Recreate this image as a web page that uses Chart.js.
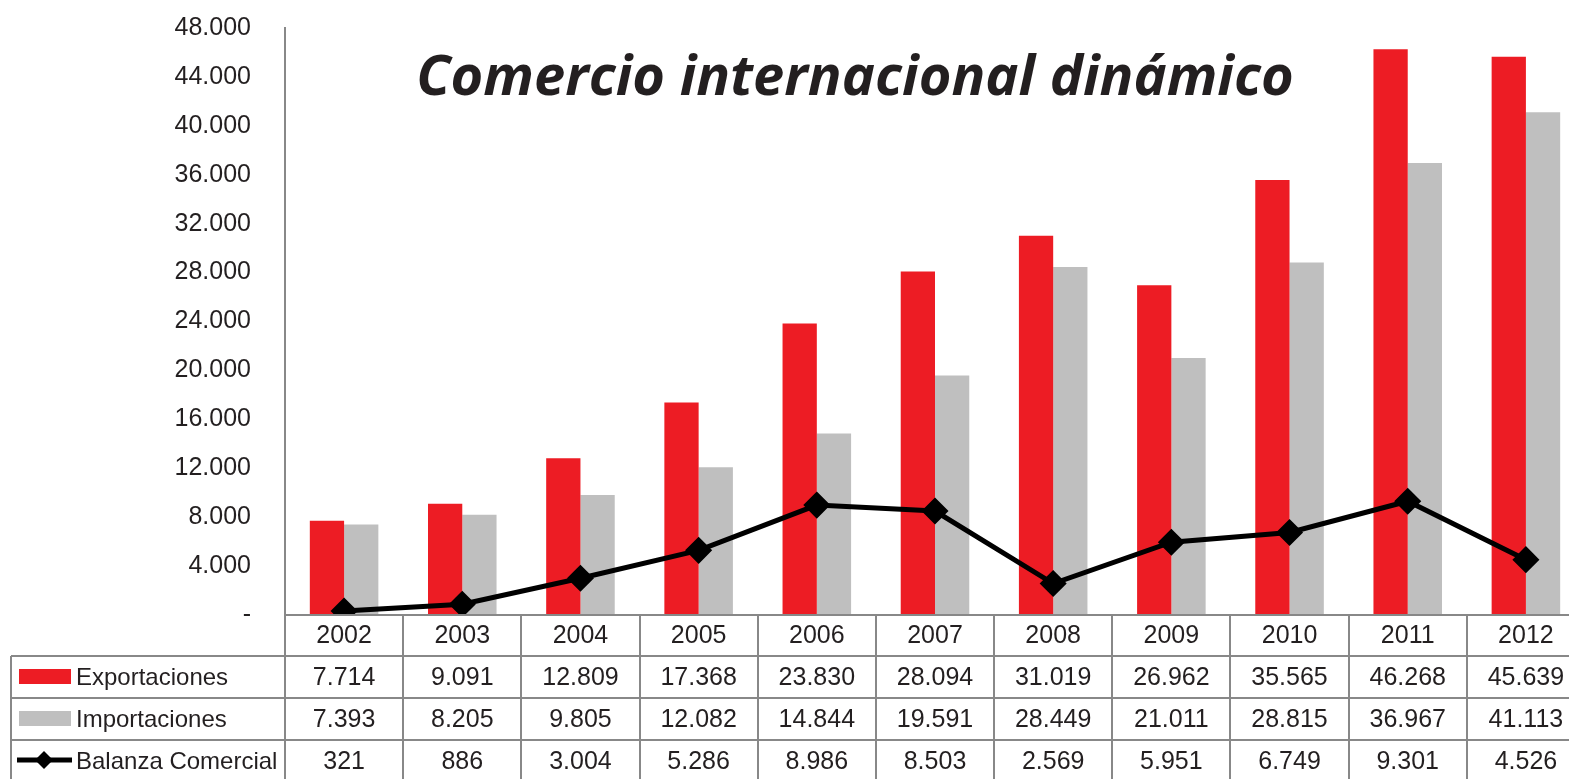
<!DOCTYPE html>
<html>
<head>
<meta charset="utf-8">
<script src="https://cdn.jsdelivr.net/npm/chart.js@4.4.0/dist/chart.umd.min.js"></script>
<style>
  html, body { margin: 0; padding: 0; overflow: hidden; background: #fff; }
  canvas { display: block; }
</style>
</head>
<body>
<canvas id="comercio" width="1585" height="779"></canvas>
<script>
const years = ['2002', '2003', '2004', '2005', '2006', '2007', '2008', '2009', '2010', '2011', '2012'];
const exportaciones = [7714, 9091, 12809, 17368, 23830, 28094, 31019, 26962, 35565, 46268, 45639];
const importaciones = [7393, 8205, 9805, 12082, 14844, 19591, 28449, 21011, 28815, 36967, 41113];
const balanza = [321, 886, 3004, 5286, 8986, 8503, 2569, 5951, 6749, 9301, 4526];
const rowLabels = ['Exportaciones', 'Importaciones', 'Balanza Comercial'];

const RED = '#ED1C24';
const GRAY = '#BFBFBF';
const LINE = '#888888';
const FONT = '"Liberation Sans", Arial, sans-serif';

function fmt(v) {
  if (v === 0) return '-';
  return v.toString().replace(/\B(?=(\d{3})+(?!\d))/g, '.');
}

// title + data table under the plot
const tablePlugin = {
  id: 'tablePlugin',
  afterDraw(chart) {
    const ctx = chart.ctx;
    const x = chart.scales.x;
    const area = chart.chartArea;
    const step = x.getPixelForValue(1) - x.getPixelForValue(0);
    const rows = [area.bottom, 656, 698, 740, 782];
    const leftEdge = 11;
    const right = chart.width;

    ctx.save();
    ctx.fillStyle = '#231F20';
    ctx.font = 'italic bold 56px "Open Sans"';
    ctx.textAlign = 'center';
    ctx.textBaseline = 'middle';
    ctx.fillText('Comercio internacional dinámico', 855, 79);

    ctx.strokeStyle = LINE;
    ctx.lineWidth = 2;
    ctx.beginPath();
    for (let i = 0; i <= years.length; i++) {
      const px = Math.round(x.getPixelForValue(0) - step / 2 + i * step);
      ctx.moveTo(px, rows[0]);
      ctx.lineTo(px, 779);
    }
    ctx.moveTo(leftEdge, rows[1]);
    ctx.lineTo(leftEdge, 779);
    ctx.moveTo(area.left, rows[0]);
    ctx.lineTo(right, rows[0]);
    for (let r = 1; r < 4; r++) {
      ctx.moveTo(leftEdge, rows[r]);
      ctx.lineTo(right, rows[r]);
    }
    ctx.stroke();

    ctx.fillStyle = '#231F20';
    ctx.font = '25px ' + FONT;
    ctx.textAlign = 'center';
    const series = [exportaciones, importaciones, balanza];
    years.forEach((yr, i) => {
      const cx = x.getPixelForValue(i);
      ctx.fillText(yr, cx, (rows[0] + rows[1]) / 2 + 1);
      series.forEach((s, r) => {
        ctx.fillText(fmt(s[i]), cx, (rows[r + 1] + rows[r + 2]) / 2 + 1);
      });
    });

    ctx.textAlign = 'left';
    ctx.font = '24px ' + FONT;
    rowLabels.forEach((lab, r) => {
      const cy = (rows[r + 1] + rows[r + 2]) / 2;
      if (r < 2) {
        ctx.fillStyle = r === 0 ? RED : GRAY;
        ctx.fillRect(19, cy - 8, 52, 15);
      } else {
        ctx.strokeStyle = '#000';
        ctx.lineWidth = 5;
        ctx.beginPath();
        ctx.moveTo(17, cy - 1);
        ctx.lineTo(72, cy - 1);
        ctx.stroke();
        ctx.fillStyle = '#000';
        ctx.beginPath();
        ctx.moveTo(44, cy - 10);
        ctx.lineTo(53, cy - 1);
        ctx.lineTo(44, cy + 8);
        ctx.lineTo(35, cy - 1);
        ctx.closePath();
        ctx.fill();
      }
      ctx.fillStyle = '#231F20';
      ctx.fillText(lab, 76, cy + 1);
    });
    ctx.restore();
  }
};

const ctx = document.getElementById('comercio').getContext('2d');
const chart = new Chart(ctx, {
  type: 'bar',
  data: {
    labels: years,
    datasets: [
      {
        type: 'line',
        label: 'Balanza Comercial',
        data: balanza,
        borderColor: '#000',
        backgroundColor: '#000',
        borderWidth: 5,
        pointStyle: 'rectRot',
        pointRadius: 10,
        pointHoverRadius: 10,
        tension: 0,
        order: 0
      },
      {
        label: 'Exportaciones',
        data: exportaciones,
        backgroundColor: RED,
        categoryPercentage: 0.58,
        barPercentage: 1,
        order: 1
      },
      {
        label: 'Importaciones',
        data: importaciones,
        backgroundColor: GRAY,
        categoryPercentage: 0.58,
        barPercentage: 1,
        order: 1
      }
    ]
  },
  options: {
    responsive: false,
    animation: false,
    layout: { autoPadding: false, padding: { top: 28, bottom: 164, left: 0, right: 0 } },
    plugins: {
      legend: { display: false },
      tooltip: { enabled: false }
    },
    scales: {
      x: {
        display: false
      },
      y: {
        min: 0,
        max: 48000,
        afterFit(scale) {
          scale.width = 285;
          scale.paddingTop = 0;
          scale.paddingBottom = 0;
        },
        grid: { display: false, drawTicks: false },
        border: { display: true, color: LINE, width: 2 },
        ticks: {
          stepSize: 4000,
          padding: 34,
          color: '#231F20',
          font: { family: FONT, size: 25 },
          callback: v => fmt(v)
        }
      }
    }
  },
  plugins: [tablePlugin]
});
</script>
</body>
</html>
